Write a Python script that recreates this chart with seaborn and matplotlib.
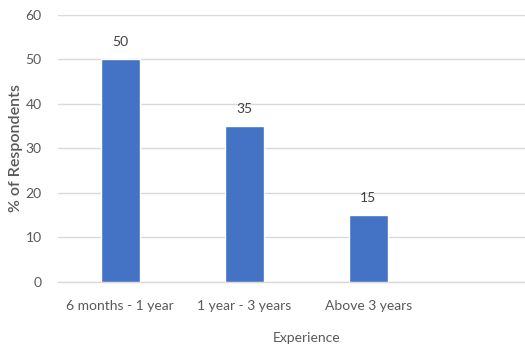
import matplotlib
matplotlib.use("Agg")
import matplotlib.pyplot as plt
import seaborn as sns
import pandas as pd

categories = ["6 months - 1 year", "1 year - 3 years", "Above 3 years"]
values = [50, 35, 15]
yticks = [0, 10, 20, 30, 40, 50, 60]

sns.set_theme(style="white")
plt.rcParams["font.family"] = ["Lato", "DejaVu Sans"]

df = pd.DataFrame({"Experience": categories, "pct": values})

fig = plt.figure(figsize=(5.25, 3.45), dpi=100)
ax = fig.add_axes([0.111, 0.1826, 0.945, 0.774])
sns.barplot(data=df, x="Experience", y="pct", color="#4472C4", width=0.315,
            saturation=1, ax=ax, zorder=3)
ax.set_xlim(-0.5, 3.5)
ax.set_ylim(0, 60)
ax.set_yticks(yticks)
ax.yaxis.grid(True, color="#d9d9d9", linewidth=1, zorder=0)
ax.set_axisbelow(True)
for s in ["top", "right", "left"]:
    ax.spines[s].set_visible(False)
ax.spines["bottom"].set_color("#d9d9d9")
ax.spines["bottom"].set_linewidth(1)
ax.tick_params(axis="both", length=0, labelsize=10, labelcolor="#595959")
ax.tick_params(axis="y", pad=12)
ax.tick_params(axis="x", pad=13)
for container in ax.containers:
    ax.bar_label(container, padding=8, fontsize=10, color="#404040")
ax.set_xlabel("Experience", fontsize=10, color="#595959", labelpad=14)
ax.set_ylabel("% of Respondents", fontsize=11.5, fontweight="semibold",
              color="#595959", labelpad=2)
fig.savefig("out.png", dpi=100)
